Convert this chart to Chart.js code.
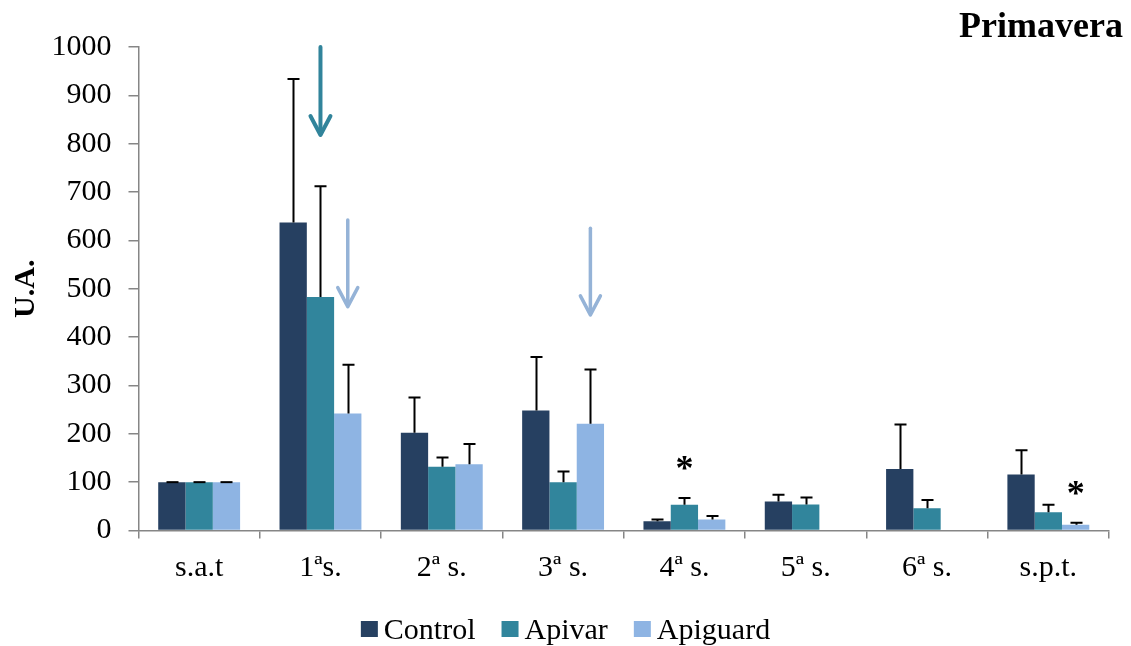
<!DOCTYPE html>
<html>
<head>
<meta charset="utf-8">
<title>Primavera</title>
<script src="https://cdn.jsdelivr.net/npm/chart.js@4.4.0/dist/chart.umd.min.js"></script>
<style>
  html, body { margin: 0; padding: 0; background: #ffffff; }
  #wrap { width: 1131px; height: 646px; position: relative; }
</style>
</head>
<body>
<div id="wrap"><canvas id="chart"></canvas></div>
<script>
// Sampling points
const categories = ['s.a.t', '1ªs.', '2ª s.', '3ª s.', '4ª s.', '5ª s.', '6ª s.', 's.p.t.'];

// Mean values (U.A.) and their error (upper whisker) per treatment
const control     = [100, 637, 202, 248, 19, 60, 127, 116];
const controlErr  = [0, 297, 73, 111, 4, 14, 92, 50];
const apivar      = [100, 483, 132, 100, 53, 54, 46, 38];
const apivarErr   = [0, 229, 19, 22, 14, 14, 17, 15];
const apiguard    = [100, 242, 137, 221, 23, null, null, 12];
const apiguardErr = [0, 101, 42, 112, 7, null, null, 4];

const seriesNames  = ['Control', 'Apivar', 'Apiguard'];
const seriesColors = ['#264061', '#31859C', '#8EB4E3'];

// Y axis
const yMin = 0, yMax = 1000, yStep = 100;

// Treatment arrows: category index, series whose bar they sit over, start and end value
const arrowCategory = [1, 1, 3];
const arrowSeries   = [1, 2, 2];
const arrowFrom     = [1000, 642, 625];
const arrowTo       = [818, 463, 446];
const arrowColors   = ['#31849B', '#95B3D7', '#95B3D7'];
const arrowWidths   = [4, 3.5, 3.5];

// Significance marks: category index, series, value where the mark is centred
const starCategory = [4, 7];
const starSeries   = [1, 2];
const starValue    = [141, 89];

const SERIF = "'Liberation Serif', 'Times New Roman', serif";

const errorBarPlugin = {
  id: 'errorBars',
  afterDatasetsDraw(chart) {
    const ctx = chart.ctx;
    const ys = chart.scales.y;
    ctx.save();
    ctx.strokeStyle = '#000000';
    ctx.lineWidth = 2;
    chart.data.datasets.forEach((ds, i) => {
      const meta = chart.getDatasetMeta(i);
      meta.data.forEach((bar, j) => {
        const v = ds.data[j];
        const e = ds.errors[j];
        if (v == null || e == null) return;
        const yBase = ys.getPixelForValue(v);
        const yTop = ys.getPixelForValue(v + e);
        const x = Math.round(bar.x) + 0.5;
        ctx.beginPath();
        ctx.moveTo(x, yBase);
        ctx.lineTo(x, yTop);
        ctx.moveTo(x - 6, yTop);
        ctx.lineTo(x + 6, yTop);
        ctx.stroke();
      });
    });
    ctx.restore();
  }
};

const annotationPlugin = {
  id: 'annotations',
  afterDraw(chart) {
    const ctx = chart.ctx;
    const ys = chart.scales.y;
    const area = chart.chartArea;
    ctx.save();

    // arrows
    arrowCategory.forEach((c, k) => {
      const bar = chart.getDatasetMeta(arrowSeries[k]).data[c];
      const x = bar.x;
      const y0 = ys.getPixelForValue(arrowFrom[k]);
      const y1 = ys.getPixelForValue(arrowTo[k]);
      ctx.strokeStyle = arrowColors[k];
      ctx.lineWidth = arrowWidths[k];
      ctx.lineCap = 'round';
      ctx.lineJoin = 'round';
      ctx.beginPath();
      ctx.moveTo(x, y0);
      ctx.lineTo(x, y1 - 2);
      ctx.stroke();
      ctx.beginPath();
      ctx.moveTo(x - 10, y1 - 19);
      ctx.lineTo(x, y1);
      ctx.lineTo(x + 10, y1 - 19);
      ctx.stroke();
    });

    // significance asterisks
    ctx.fillStyle = '#000000';
    ctx.font = 'bold 36px ' + SERIF;
    ctx.textAlign = 'center';
    ctx.textBaseline = 'alphabetic';
    starCategory.forEach((c, k) => {
      const bar = chart.getDatasetMeta(starSeries[k]).data[c];
      ctx.fillText('*', bar.x, ys.getPixelForValue(starValue[k]) + 18);
    });

    // season title
    ctx.font = 'bold 36px ' + SERIF;
    ctx.textAlign = 'right';
    ctx.fillText('Primavera', area.right + 14, 37);

    // legend
    ctx.font = '30px ' + SERIF;
    ctx.textAlign = 'left';
    const box = 17, gapText = 6, gapItem = 26;
    const widths = seriesNames.map(n => box + gapText + ctx.measureText(n).width);
    const total = widths.reduce((a, b) => a + b, 0) + gapItem * (seriesNames.length - 1);
    let x = (chart.width - total) / 2;
    const baseline = 639;
    seriesNames.forEach((n, k) => {
      ctx.fillStyle = seriesColors[k];
      ctx.fillRect(x, baseline - 18, box, 16);
      ctx.fillStyle = '#000000';
      ctx.fillText(n, x + box + gapText, baseline);
      x += widths[k] + gapItem;
    });

    ctx.restore();
  }
};

const datasets = [
  { label: seriesNames[0], data: control,  errors: controlErr,  backgroundColor: seriesColors[0] },
  { label: seriesNames[1], data: apivar,   errors: apivarErr,   backgroundColor: seriesColors[1] },
  { label: seriesNames[2], data: apiguard, errors: apiguardErr, backgroundColor: seriesColors[2] }
];

new Chart(document.getElementById('chart'), {
  type: 'bar',
  data: { labels: categories, datasets },
  options: {
    responsive: true,
    maintainAspectRatio: false,
    animation: false,
    devicePixelRatio: 1,
    layout: { padding: { top: 47, right: 22, bottom: 47.5, left: 0 } },
    datasets: {
      bar: { categoryPercentage: 0.675, barPercentage: 1.0, borderWidth: 0 }
    },
    plugins: {
      legend: { display: false },
      title: { display: false },
      tooltip: { enabled: false }
    },
    scales: {
      x: {
        offset: true,
        grid: {
          offset: true,
          drawOnChartArea: false,
          drawTicks: true,
          tickLength: 8,
          color: '#868686',
          lineWidth: 1.5
        },
        border: { color: '#868686', width: 1.5 },
        ticks: {
          color: '#000000',
          font: { family: SERIF, size: 30 },
          padding: 12,
          maxRotation: 0
        }
      },
      y: {
        min: yMin,
        max: yMax,
        afterFit(scale) { scale.width = 138.5; },
        grid: {
          drawOnChartArea: false,
          drawTicks: true,
          tickLength: 10,
          color: '#868686',
          lineWidth: 1.5
        },
        border: { color: '#868686', width: 1.5 },
        ticks: {
          stepSize: yStep,
          color: '#000000',
          font: { family: SERIF, size: 30 },
          padding: 17,
          callback: (value) => String(value)
        },
        title: {
          display: true,
          text: 'U.A.',
          color: '#000000',
          font: { family: SERIF, size: 30, weight: 'bold' },
          padding: { top: 8, bottom: 0 }
        }
      }
    }
  },
  plugins: [errorBarPlugin, annotationPlugin]
});
</script>
</body>
</html>
